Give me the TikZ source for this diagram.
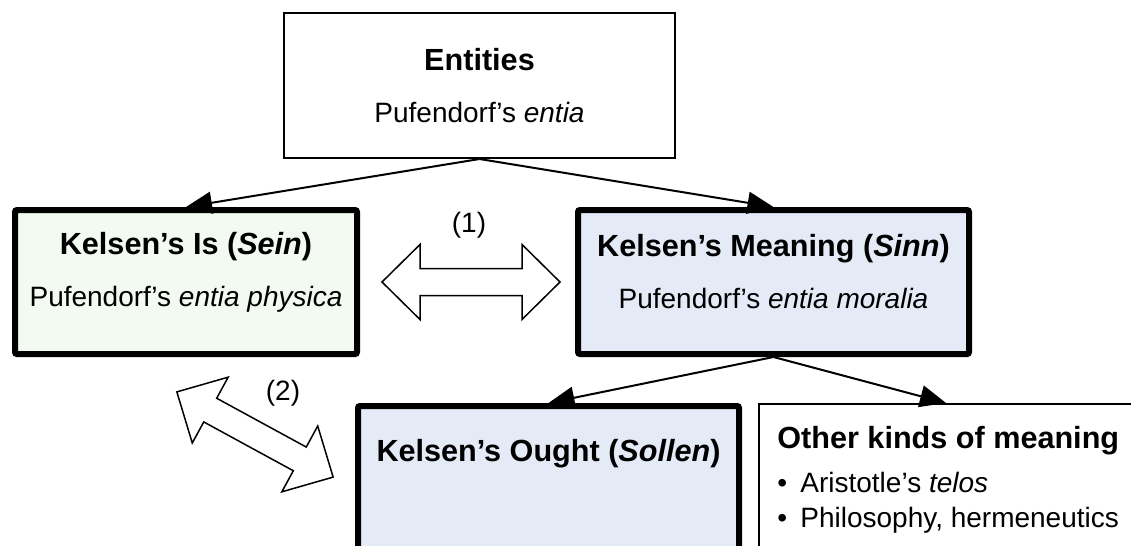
\documentclass[tikz,border=0pt]{standalone}
\usepackage{fontspec}
\setmainfont{Liberation Sans}
\usetikzlibrary{arrows.meta,positioning}
\definecolor{seinfill}{RGB}{242,250,241}
\definecolor{sinnfill}{RGB}{228,235,247}
\newcommand{\boxtitle}{\fontsize{15.3}{26}\selectfont\bfseries}
\newcommand{\boxtext}{\fontsize{14}{26}\selectfont}

\begin{document}
\begin{tikzpicture}[x=0.5pt,y=-0.5pt,
  thinbox/.style={draw,line width=1pt,inner sep=0pt,align=center,font=\boxtext},
  thickbox/.style={draw,line width=3pt,rounded corners=1pt,inner sep=0pt},
  boxlines/.style={align=center,font=\boxtext,inner sep=0pt},
  link/.style={line width=1pt,-{Triangle[length=13pt,width=11pt]}},
  relarrow/.style={fill=white,draw,line width=0.75pt,line join=miter},
  relpair/.pic={\draw[relarrow] (-89,0) -- (-51,-37.5) -- (-51,-13.5) -- (51,-13.5) -- (51,-37.5)
    -- (89,0) -- (51,37.5) -- (51,13.5) -- (-51,13.5) -- (-51,37.5) -- cycle;}]
\clip (0,0) rectangle (1131,546);

%Entities
\node[thinbox,minimum width=195.5pt,minimum height=72.5pt] (ent) at (479.5,85.5)
  {{\boxtitle Entities}\\Pufendorf's \textit{entia}};

%Sein and Sinn
\node[thickbox,fill=seinfill,minimum width=171pt,minimum height=72pt] (sein) at (186,282) {};
\node[boxlines] (seintext) at ([yshift=5pt]sein.center)
  {{\boxtitle Kelsen's Is (\textit{Sein})}\\Pufendorf's \textit{entia physica}};
\node[thickbox,fill=sinnfill,minimum width=195.5pt,minimum height=72pt] (sinn) at (773.5,282) {};
\node[boxlines] (sinntext) at ([yshift=5pt]sinn.center)
  {{\boxtitle Kelsen's Meaning (\textit{Sinn})}\\Pufendorf's \textit{entia moralia}};

%Sollen
\node[thickbox,fill=sinnfill,minimum width=190.5pt,minimum height=120pt] (sollen) at (548.5,526) {};
\node[font=\boxtitle,anchor=base] (sollentitle) at (548.5,461) {Kelsen's Ought (\textit{Sollen})};

%other meaning
\node[thinbox,minimum width=187pt,minimum height=120pt] (other) at (946,524) {};
\node[font=\boxtitle,anchor=base west,inner sep=0pt] (othertitle) at (777,448) {Other kinds of meaning};
\node[font=\boxtext,anchor=base west,inner sep=0pt] (telos) at (777,492)
  {\makebox[11.5pt][l]{\textbullet}Aristotle's \textit{telos}};
\node[font=\boxtext,anchor=base west,inner sep=0pt] (herm) at (777,527)
  {\makebox[11.5pt][l]{\textbullet}Philosophy, hermeneutics};

%links
\draw[link] (ent.south) -- (sein.north);
\draw[link] (ent.south) -- (sinn.north);
\draw[link] (sinn.south) -- (sollen.north);
\draw[link] (sinn.south) -- (other.north);

%(1) and (2)
\pic (rel1) at (471,282) {relpair};
\node[font=\boxtext] (lbl1) at (469,225) {(1)};
\pic[rotate=-28.6] (rel2) at (255,434.5) {relpair};
\node[font=\boxtext] (lbl2) at (283,393) {(2)};
\end{tikzpicture}
\end{document}
